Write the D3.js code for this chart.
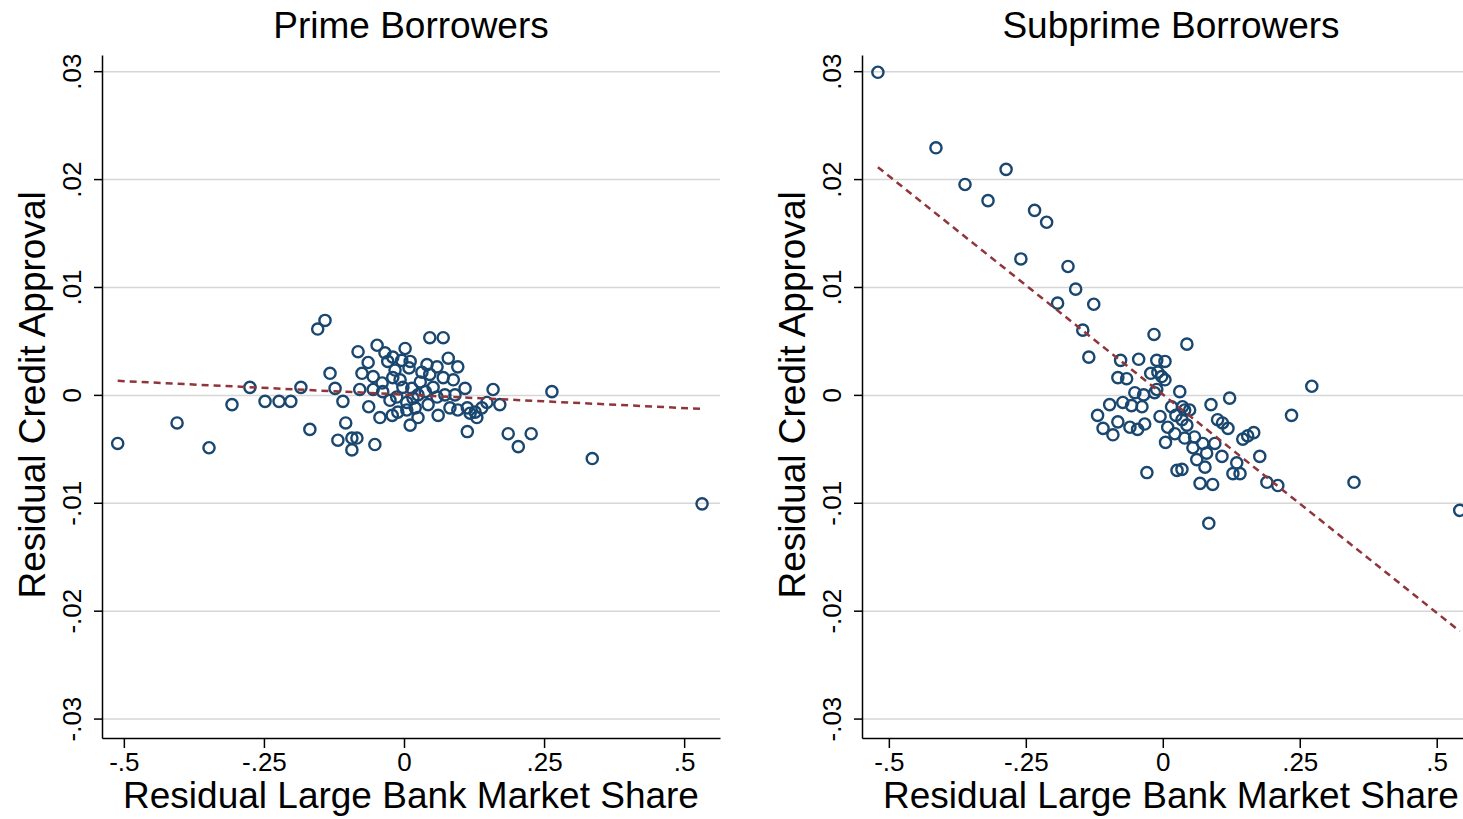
<!DOCTYPE html>
<html>
<head>
<meta charset="utf-8">
<script src="https://cdn.jsdelivr.net/npm/d3@7"></script>
<style>
  body { margin: 0; background: #fff; }
  svg { display: block; font-family: "Liberation Sans", Arial, sans-serif; }
</style>
</head>
<body>
<script>
// values
const xTicks = [-0.5, -0.25, 0, 0.25, 0.5];
const yTicks = [-0.03, -0.02, -0.01, 0, 0.01, 0.02, 0.03];

const primeX = [-0.511, -0.405, -0.348, -0.307, -0.275, -0.248, -0.223, -0.202, -0.184, -0.168,
  -0.154, -0.141, -0.132, -0.123, -0.109, -0.104, -0.118, -0.093, -0.084, -0.093,
  -0.052, -0.082, -0.048, -0.064, -0.075, -0.034, -0.020, 0.002, -0.004, 0.011,
  0.009, -0.029, -0.055, -0.039, -0.020, -0.002, -0.079, -0.063, -0.043, -0.021,
  0.011, 0.025, 0.020, 0.005, -0.013, -0.038, -0.055, 0.046, 0.070, 0.041,
  0.059, 0.079, 0.096, 0.046, 0.070, 0.088, 0.029, 0.052, 0.109, 0.025,
  0.059, 0.082, 0.096, 0.113, 0.127, 0.061, 0.113, 0.016, 0.005, 0.118,
  0.130, 0.139, 0.148, 0.159, 0.171, 0.186, 0.204, 0.227, 0.264, 0.336,
  0.532, -0.016, -0.007, 0.038, 0.073, 0.014, -0.025, 0.091, 0.043, -0.011, 0.032];
const primeY = [-0.0045, -0.0026, -0.0049, -0.0009, 0.0007, -0.0006, -0.0006, -0.0006, 0.0007, -0.0032,
  0.0061, 0.0069, 0.0020, 0.0006, -0.0006, -0.0026, -0.0042, -0.0040, -0.0040, -0.0051,
  -0.0046, 0.0040, 0.0046, 0.0030, 0.0020, 0.0039, 0.0035, 0.0043, 0.0032, 0.0031,
  0.0025, 0.0031, 0.0017, 0.0011, 0.0016, 0.0007, 0.0005, -0.0011, -0.0021, -0.0019,
  -0.0028, -0.0021, -0.0012, -0.0007, -0.0002, 0.0003, 0.0005, 0.0053, 0.0053, 0.0028,
  0.0026, 0.0034, 0.0026, 0.0019, 0.0016, 0.0014, 0.0012, 0.0007, 0.0006, 0.0000,
  -0.0002, -0.0012, -0.0014, -0.0012, -0.0016, -0.0019, -0.0034, -0.0003, -0.0014, -0.0017,
  -0.0021, -0.0012, -0.0007, 0.0005, -0.0009, -0.0036, -0.0048, -0.0036, 0.0003, -0.0059,
  -0.0101, 0.0023, 0.0014, 0.0003, 0.0000, 0.0006, -0.0005, 0.0000, -0.0009, -0.0016, 0.0021];

const subX = [-0.520, -0.414, -0.361, -0.319, -0.286, -0.259, -0.234, -0.212, -0.192, -0.173,
  -0.159, -0.126, -0.146, -0.135, -0.016, 0.044, -0.077, -0.044, -0.011, 0.004,
  -0.082, -0.066, -0.022, -0.009, -0.002, 0.004, 0.031, 0.122, -0.051, -0.035,
  -0.015, -0.097, -0.073, -0.057, -0.038, -0.119, -0.109, -0.091, -0.082, -0.060,
  -0.046, -0.033, -0.005, 0.016, 0.036, 0.049, 0.088, 0.024, 0.035, 0.044,
  0.009, 0.022, 0.005, 0.040, 0.058, 0.073, 0.055, 0.080, 0.062, 0.077,
  0.100, 0.109, 0.119, 0.095, 0.108, -0.029, 0.026, 0.068, 0.091, 0.135,
  0.128, 0.141, 0.146, 0.155, 0.166, 0.177, 0.190, 0.210, 0.084, 0.235,
  0.272, 0.349, 0.542, 0.040, 0.035, -0.011];
const subY = [0.0299, 0.0229, 0.0195, 0.0180, 0.0209, 0.0126, 0.0171, 0.0160, 0.0085, 0.0119,
  0.0098, 0.0084, 0.0060, 0.0035, 0.0056, 0.0047, 0.0032, 0.0033, 0.0032, 0.0031,
  0.0016, 0.0015, 0.0020, 0.0021, 0.0017, 0.0014, 0.0003, -0.0003, 0.0002, 0.0000,
  0.0002, -0.0009, -0.0007, -0.0010, -0.0011, -0.0019, -0.0031, -0.0037, -0.0025, -0.0030,
  -0.0032, -0.0027, -0.0020, -0.0011, -0.0011, -0.0014, -0.0009, -0.0019, -0.0023, -0.0028,
  -0.0030, -0.0036, -0.0044, -0.0040, -0.0039, -0.0045, -0.0049, -0.0054, -0.0060, -0.0067,
  -0.0023, -0.0026, -0.0031, -0.0045, -0.0057, -0.0072, -0.0070, -0.0082, -0.0083, -0.0063,
  -0.0073, -0.0073, -0.0041, -0.0038, -0.0035, -0.0057, -0.0081, -0.0084, -0.0119, -0.0019,
  0.0008, -0.0081, -0.0107, -0.0014, -0.0069, 0.0005];

// fitted lines (end points)
const primeFitX = [-0.511, 0.532];
const primeFitY = [0.0013, -0.0013];
const subFitX = [-0.520, 0.542];
const subFitY = [0.0211, -0.0219];

const width = 1463;
const height = 819;
const plotW = 618;
const plotH = 683;
const marginTop = 55;

const svg = d3.select("body")
  .append("svg")
  .attr("width", width)
  .attr("height", height);

const fmt = d => d === 0 ? "0" : String(d).replace("0.", ".");

function drawPanel(left, xDomain, title, xs, ys, fitX, fitY) {
  const x = d3.scaleLinear().domain(xDomain).range([0, plotW]);
  const y = d3.scaleLinear().domain([-0.0318, 0.0315]).range([plotH, 0]);

  const g = svg.append("g").attr("transform", `translate(${left},${marginTop})`);

  // horizontal grid
  g.append("g")
    .call(d3.axisLeft(y).tickValues(yTicks).tickSize(-plotW).tickFormat(""))
    .call(a => a.select(".domain").remove())
    .selectAll("line")
    .attr("stroke", "#d6d6d6")
    .attr("stroke-width", 1.5);

  // y axis
  const ya = g.append("g")
    .call(d3.axisLeft(y).tickValues(yTicks).tickSize(8).tickSizeOuter(0).tickFormat(fmt));
  ya.select(".domain").attr("stroke", "#000").attr("stroke-width", 1.5);
  ya.selectAll(".tick line").attr("stroke", "#000").attr("stroke-width", 1.5);
  ya.selectAll(".tick text")
    .attr("x", null).attr("dy", null)
    .attr("text-anchor", "middle")
    .attr("transform", "translate(-21,0) rotate(-90)")
    .attr("font-size", 26)
    .attr("fill", "#000");

  // x axis
  const xa = g.append("g")
    .attr("transform", `translate(0,${plotH})`)
    .call(d3.axisBottom(x).tickValues(xTicks).tickSize(10).tickSizeOuter(0).tickFormat(fmt));
  xa.select(".domain").attr("stroke", "#000").attr("stroke-width", 1.5);
  xa.selectAll(".tick line").attr("stroke", "#000").attr("stroke-width", 1.5);
  xa.selectAll(".tick text")
    .attr("y", 33).attr("dy", null)
    .attr("font-size", 26)
    .attr("fill", "#000");

  // points
  g.append("g")
    .selectAll("circle")
    .data(xs.map((v, i) => [v, ys[i]]))
    .enter()
    .append("circle")
    .attr("cx", d => x(d[0]))
    .attr("cy", d => y(d[1]))
    .attr("r", 5.6)
    .attr("fill", "none")
    .attr("stroke", "#1a476f")
    .attr("stroke-width", 2.4);

  // fitted line
  g.append("path")
    .datum(fitX.map((v, i) => [v, fitY[i]]))
    .attr("d", d3.line().x(d => x(d[0])).y(d => y(d[1])))
    .attr("fill", "none")
    .attr("stroke", "#90353b")
    .attr("stroke-width", 2.5)
    .attr("stroke-dasharray", "7,5");

  // titles
  g.append("text")
    .attr("x", plotW / 2)
    .attr("y", 38 - marginTop)
    .attr("text-anchor", "middle")
    .attr("font-size", 37)
    .text(title);

  g.append("text")
    .attr("x", plotW / 2)
    .attr("y", 808 - marginTop)
    .attr("text-anchor", "middle")
    .attr("font-size", 37)
    .text("Residual Large Bank Market Share");

  g.append("text")
    .attr("transform", `translate(-57,${y(0)}) rotate(-90)`)
    .attr("text-anchor", "middle")
    .attr("font-size", 37)
    .text("Residual Credit Approval");
}

drawPanel(102, [-0.539, 0.564], "Prime Borrowers", primeX, primeY, primeFitX, primeFitY);
drawPanel(862, [-0.549, 0.579], "Subprime Borrowers", subX, subY, subFitX, subFitY);
</script>
</body>
</html>
